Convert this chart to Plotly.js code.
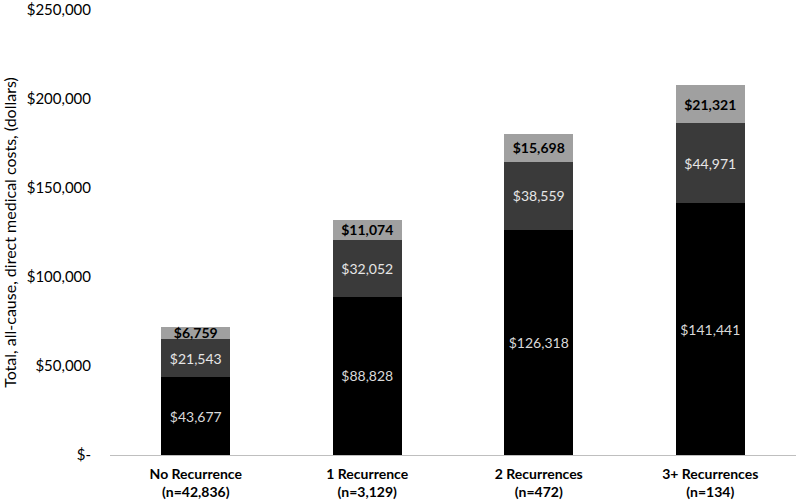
<!DOCTYPE html>
<html>
<head>
<meta charset="utf-8">
<script src="https://cdn.plot.ly/plotly-3.0.1.min.js"></script>
<style>html,body{margin:0;padding:0;background:#fff;}#chart{width:796px;height:504px;}</style>
</head>
<body>
<div id="chart"></div>
<script>
const categories = ["<b>No Recurrence</b><br><b>(n=42,836)</b>", "<b>1 Recurrence</b><br><b>(n=3,129)</b>", "<b>2 Recurrences</b><br><b>(n=472)</b>", "<b>3+ Recurrences</b><br><b>(n=134)</b>"];
const bottomValues = [43677, 88828, 126318, 141441];
const middleValues = [21543, 32052, 38559, 44971];
const topValues = [6759, 11074, 15698, 21321];
const yTickVals = [0, 50000, 100000, 150000, 200000, 250000];
const yTickText = ["$-", "$50,000", "$100,000", "$150,000", "$200,000", "$250,000"];

const fmt = v => "$" + v.toLocaleString("en-US");
const FONT = "Lato, 'Open Sans', sans-serif";

function seg(values, color, textColor, bold) {
  return {
    type: "bar",
    x: categories,
    y: values,
    marker: {color: color, line: {width: 0}},
    text: values.map(v => bold ? "<b>" + fmt(v) + "</b>" : fmt(v)),
    textposition: "inside",
    insidetextanchor: "middle",
    constraintext: "none",
    textangle: 0,
    textfont: {family: FONT, size: 14, color: textColor},
    hoverinfo: "none",
    showlegend: false
  };
}

const data = [
  seg(bottomValues, "#000000", "#d9d9d9", false),
  seg(middleValues, "#3a3a3a", "#e6e6e6", false),
  seg(topValues, "#a0a0a0", "#000000", true)
];

const layout = {
  width: 796, height: 504,
  margin: {l: 110, r: 0, t: 10, b: 49},
  barmode: "stack",
  bargap: 0.6,
  paper_bgcolor: "#ffffff",
  plot_bgcolor: "#ffffff",
  font: {family: FONT, size: 14, color: "#000"},
  xaxis: {
    showline: true, linecolor: "#bfbfbf", linewidth: 1,
    ticks: "", showgrid: false, zeroline: false,
    ticklabelstandoff: 6,
    tickfont: {family: FONT, size: 14, color: "#000"}
  },
  yaxis: {
    range: [0, 250000],
    tickvals: yTickVals, ticktext: yTickText,
    showgrid: false, zeroline: false, showline: false, ticks: "",
    ticklabelstandoff: 18,
    ticklabeloverflow: "allow",
    tickfont: {family: FONT, size: 15, color: "#000"},
    title: {text: "Total, all-cause, direct medical costs, (dollars)", font: {family: FONT, size: 16, color: "#000"}, standoff: 8}
  }
};

Plotly.newPlot("chart", data, layout, {displayModeBar: false, staticPlot: true});
</script>
</body>
</html>
